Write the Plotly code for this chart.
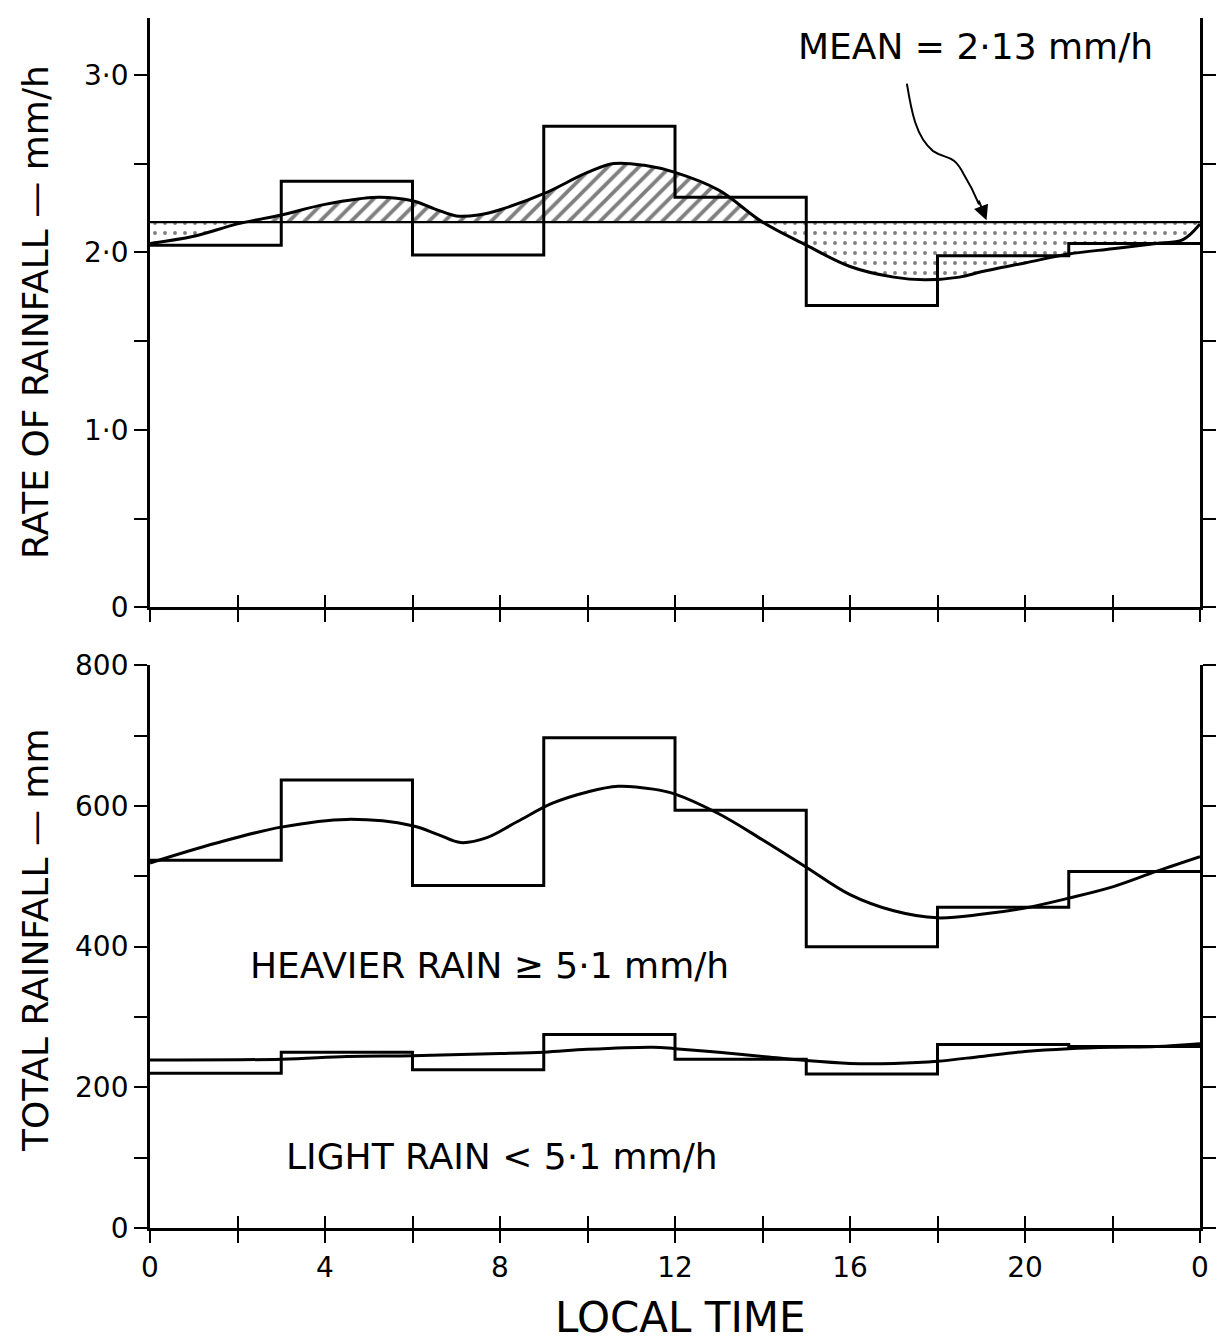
import plotly.graph_objects as go

# ---------------- data ----------------
bin_edges = [0, 3, 6, 9, 12, 15, 18, 21, 24]
rate_steps = [2.04, 2.40, 1.985, 2.71, 2.31, 1.70, 1.98, 2.05]
heavy_steps = [523, 637, 487, 697, 594, 400, 456, 507]
light_steps = [220, 250, 225, 275, 240, 219, 261, 258]

mean_level = 2.17
mean_label = "MEAN = 2·13 mm/h"

rate_curve_h = [0, 1, 2, 3, 4, 5.2, 6, 6.5, 7, 7.5, 8, 9, 10, 10.6, 11.3, 12, 13, 14, 15, 16,
                17, 17.7, 18.5, 19, 20, 21, 22, 23, 23.6, 24]
rate_curve_v = [2.05, 2.09, 2.16, 2.21, 2.27, 2.31, 2.29, 2.245, 2.205, 2.21, 2.24, 2.33, 2.45,
                2.50, 2.49, 2.45, 2.35, 2.17, 2.04, 1.92, 1.86, 1.845, 1.86, 1.89, 1.94, 1.99,
                2.02, 2.05, 2.07, 2.16]

heavy_curve_h = [0, 1.5, 3, 4.5, 6, 6.6, 7.1, 7.7, 8.4, 9.2, 10, 10.7, 11.5, 12, 13, 14, 15, 16,
                 17, 18, 19, 20, 21, 22, 23, 24]
heavy_curve_v = [519, 547, 570, 581, 572, 559, 548, 555, 578, 604, 620, 628, 624, 617, 589,
                 552, 513, 474, 451, 441, 446, 455, 469, 485, 507, 528]

light_curve_h = [0, 3, 4.5, 6, 8, 9, 10, 11.5, 12, 13, 14, 15, 16, 17, 18, 19, 20, 21, 22,
                 23, 24]
light_curve_v = [239, 240, 244, 245, 248, 250, 254, 257, 255, 250, 244, 238, 234, 234, 237,
                 244, 251, 255, 257, 258, 262]

x_tickvals = list(range(0, 25, 2))
x_ticktext = ["0", "", "4", "", "8", "", "12", "", "16", "", "20", "", "0"]
rate_tickvals = [0, 0.5, 1.0, 1.5, 2.0, 2.5, 3.0]
rate_ticktext = ["0", "", "1·0", "", "2·0", "", "3·0"]
total_tickvals = list(range(0, 801, 100))
total_ticktext = ["0", "", "200", "", "400", "", "600", "", "800"]

FONT = "DejaVu Sans"
LW = 3.0
TICK_SIZE = 28
TEXT_SIZE = 36


def step_xy(values):
    return bin_edges, list(values) + [values[-1]]


def split_about(xs, ys, level):
    px, py = [], []
    for i in range(len(xs) - 1):
        px.append(xs[i]); py.append(ys[i])
        a, b = ys[i] - level, ys[i + 1] - level
        if a * b < 0:
            t = a / (a - b)
            px.append(xs[i] + t * (xs[i + 1] - xs[i])); py.append(level)
    px.append(xs[-1]); py.append(ys[-1])
    up = [max(v, level) for v in py]
    lo = [min(v, level) for v in py]
    return px, up, lo


fig = go.Figure()

# ---- top panel fills ----
fx, fup, flo = split_about(rate_curve_h, rate_curve_v, mean_level)
base = [mean_level] * len(fx)
fig.add_trace(go.Scatter(x=fx, y=base, mode="lines", line=dict(width=0),
                         xaxis="x", yaxis="y", showlegend=False, hoverinfo="skip"))
fig.add_trace(go.Scatter(x=fx, y=fup, mode="lines", line=dict(width=0), fill="tonexty",
                         fillcolor="white",
                         fillpattern=dict(shape="/", fgcolor="black", bgcolor="white",
                                          size=11, solidity=0.35),
                         xaxis="x", yaxis="y", showlegend=False, hoverinfo="skip"))
fig.add_trace(go.Scatter(x=fx, y=base, mode="lines", line=dict(width=0),
                         xaxis="x", yaxis="y", showlegend=False, hoverinfo="skip"))
fig.add_trace(go.Scatter(x=fx, y=flo, mode="lines", line=dict(width=0), fill="tonexty",
                         fillcolor="white",
                         fillpattern=dict(shape=".", fgcolor="black", bgcolor="white",
                                          size=10, solidity=0.12),
                         xaxis="x", yaxis="y", showlegend=False, hoverinfo="skip"))

# ---- top panel lines ----
fig.add_trace(go.Scatter(x=[bin_edges[0], bin_edges[-1]], y=[mean_level, mean_level],
                         mode="lines", line=dict(color="black", width=2.2),
                         xaxis="x", yaxis="y", showlegend=False))
sx, sy = step_xy(rate_steps)
fig.add_trace(go.Scatter(x=sx, y=sy, mode="lines", line=dict(color="black", width=LW, shape="hv"),
                         xaxis="x", yaxis="y", showlegend=False))
fig.add_trace(go.Scatter(x=rate_curve_h, y=rate_curve_v, mode="lines",
                         line=dict(color="black", width=LW, shape="spline", smoothing=1.0),
                         xaxis="x", yaxis="y", showlegend=False))

# ---- bottom panel ----
for steps, ch, cv in [(heavy_steps, heavy_curve_h, heavy_curve_v),
                      (light_steps, light_curve_h, light_curve_v)]:
    sx, sy = step_xy(steps)
    fig.add_trace(go.Scatter(x=sx, y=sy, mode="lines",
                             line=dict(color="black", width=LW, shape="hv"),
                             xaxis="x2", yaxis="y2", showlegend=False))
    fig.add_trace(go.Scatter(x=ch, y=cv, mode="lines",
                             line=dict(color="black", width=LW, shape="spline", smoothing=1.0),
                             xaxis="x2", yaxis="y2", showlegend=False))

# dummy traces for overlay axes (inside tick halves)
fig.add_trace(go.Scatter(x=[None], y=[None], xaxis="x3", yaxis="y", showlegend=False,
                         hoverinfo="skip"))
fig.add_trace(go.Scatter(x=[None], y=[None], xaxis="x4", yaxis="y2", showlegend=False,
                         hoverinfo="skip"))

top_dom = [0.513, 1.0]
bot_dom = [0.0, 0.465]

common_x = dict(range=[0, 24], tickvals=x_tickvals, showgrid=False, zeroline=False,
                tickcolor="black", tickwidth=2.2, ticklen=12, color="black",
                tickfont=dict(family=FONT, size=TICK_SIZE, color="black"))
common_y = dict(showgrid=False, zeroline=False, showline=True, linecolor="black", linewidth=2.8,
                ticks="outside", ticklen=13, tickwidth=2.2, tickcolor="black", mirror="ticks",
                tickfont=dict(family=FONT, size=TICK_SIZE, color="black"))

fig.update_layout(
    width=1224, height=1344,
    margin=dict(l=150, r=24, t=2, b=116),
    paper_bgcolor="white", plot_bgcolor="white",
    font=dict(family=FONT, color="black"),
    xaxis=dict(**common_x, domain=[0, 1], anchor="y", ticks="outside", showticklabels=False,
               showline=True, linecolor="black", linewidth=2.8),
    xaxis3=dict(**common_x, domain=[0, 1], anchor="y", overlaying="x", ticks="inside",
                showticklabels=False, showline=False),
    yaxis=dict(**common_y, domain=top_dom, anchor="x", range=[0, 3.32],
               tickvals=rate_tickvals, ticktext=rate_ticktext),
    xaxis2=dict(**common_x, domain=[0, 1], anchor="y2", ticks="outside", showticklabels=True,
                ticktext=x_ticktext, showline=True, linecolor="black", linewidth=2.8),
    xaxis4=dict(**common_x, domain=[0, 1], anchor="y2", overlaying="x2", ticks="inside",
                showticklabels=False, showline=False),
    yaxis2=dict(**common_y, domain=bot_dom, anchor="x2", range=[0, 800],
                tickvals=total_tickvals, ticktext=total_ticktext),
)

# axis titles
fig.add_annotation(text="RATE OF RAINFALL — mm/h", textangle=-90, xref="paper", yref="paper",
                   x=-0.1095, y=0.757, xanchor="center", yanchor="middle", showarrow=False,
                   font=dict(family=FONT, size=TEXT_SIZE, color="black"))
fig.add_annotation(text="TOTAL RAINFALL — mm", textangle=-90, xref="paper", yref="paper",
                   x=-0.1095, y=0.238, xanchor="center", yanchor="middle", showarrow=False,
                   font=dict(family=FONT, size=TEXT_SIZE, color="black"))
fig.add_annotation(text="LOCAL TIME", xref="paper", yref="paper", x=0.505, y=-0.074,
                   xanchor="center", yanchor="middle", showarrow=False,
                   font=dict(family=FONT, size=42, color="black"))

# labels in panels
fig.add_annotation(text=mean_label, xref="x", yref="y", x=18.86, y=3.16, showarrow=False,
                   xanchor="center", yanchor="middle",
                   font=dict(family=FONT, size=TEXT_SIZE, color="black"))
fig.add_annotation(text="HEAVIER RAIN ≥ 5·1 mm/h", xref="x2", yref="y2", x=7.77, y=373,
                   showarrow=False, xanchor="center", yanchor="middle",
                   font=dict(family=FONT, size=TEXT_SIZE, color="black"))
fig.add_annotation(text="LIGHT RAIN < 5·1 mm/h", xref="x2", yref="y2", x=8.05, y=101,
                   showarrow=False, xanchor="center", yanchor="middle",
                   font=dict(family=FONT, size=TEXT_SIZE, color="black"))

# wavy pointer to mean line
fig.add_shape(type="path", xref="x", yref="y",
              path="M 17.3,2.95 C 17.4,2.80 17.5,2.65 17.9,2.57 C 18.2,2.52 18.35,2.56 18.6,2.44 "
                   "C 18.8,2.36 18.9,2.30 18.95,2.27",
              line=dict(color="black", width=2))
fig.add_annotation(x=19.12, y=mean_level + 0.01, ax=18.93, ay=2.30, xref="x", yref="y",
                   axref="x", ayref="y", text="", showarrow=True, arrowhead=2, arrowsize=1.5,
                   arrowwidth=2, arrowcolor="black")

fig.write_html("out.html")
